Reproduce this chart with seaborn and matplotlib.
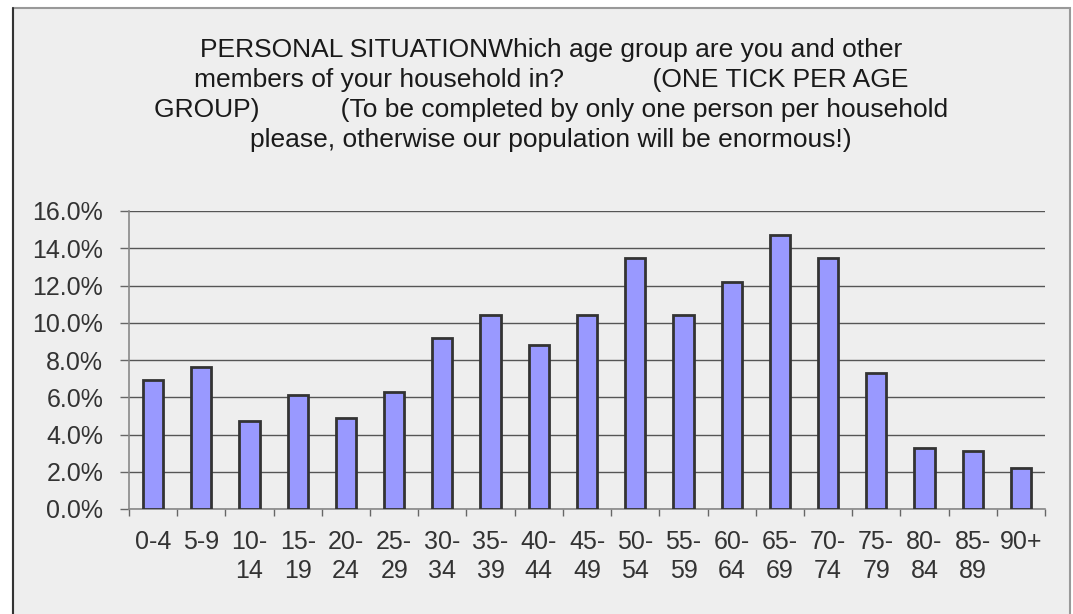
import matplotlib
matplotlib.use("Agg")
import matplotlib.pyplot as plt
import matplotlib.patches as mpatches
from matplotlib.ticker import PercentFormatter, FixedLocator
import seaborn as sns

age_groups = ["0-4", "5-9", "10-\n14", "15-\n19", "20-\n24", "25-\n29", "30-\n34",
              "35-\n39", "40-\n44", "45-\n49", "50-\n54", "55-\n59", "60-\n64",
              "65-\n69", "70-\n74", "75-\n79", "80-\n84", "85-\n89", "90+"]
percent = [6.9, 7.6, 4.7, 6.1, 4.9, 6.3, 9.2, 10.4, 8.8, 10.4, 13.5, 10.4, 12.2,
           14.7, 13.5, 7.3, 3.3, 3.1, 2.2]
title_lines = [
    "PERSONAL SITUATIONWhich age group are you and other",
    "members of your household in?            (ONE TICK PER AGE",
    "GROUP)           (To be completed by only one person per household",
    "please, otherwise our population will be enormous!)",
]

sns.set_theme(style="white")
plt.rcParams["font.family"] = ["Liberation Sans", "DejaVu Sans"]

W, H = 1073, 614
fig = plt.figure(figsize=(W / 100, H / 100), dpi=100, facecolor="white")

# chart panel background with border
panel = mpatches.Rectangle((13 / W, -0.05), (1070 - 13) / W, 1.05 - 8 / H,
                           transform=fig.transFigure, facecolor="#EEEEEE",
                           edgecolor="#999999", linewidth=1.5, zorder=-10)
fig.patches.append(panel)
fig.add_artist(plt.Line2D([13 / W, 13 / W], [0, 1 - 8 / H], transform=fig.transFigure,
                          color="#333333", linewidth=1.5, zorder=-9))

ax = fig.add_axes([129 / W, 1 - 509 / H, (1045 - 129) / W, (509 - 211) / H])
ax.set_zorder(1)
ax.set_facecolor("#EEEEEE")

sns.barplot(x=age_groups, y=percent, color="#9999FF", saturation=1,
            edgecolor="#333333", linewidth=2, width=0.42, ax=ax, zorder=3)

ax.set_ylim(0, 16)
ax.set_xlim(-0.5, len(age_groups) - 0.5)
ax.set_yticks(range(0, 17, 2))
ax.yaxis.set_major_formatter(PercentFormatter(decimals=1))
ax.yaxis.grid(True, color="#555555", linewidth=1)
ax.set_axisbelow(True)
ax.set_xlabel("")
ax.set_ylabel("")

for s in ["top", "right"]:
    ax.spines[s].set_visible(False)
for s in ["left", "bottom"]:
    ax.spines[s].set_color("#888888")
    ax.spines[s].set_linewidth(1.2)

ax.tick_params(axis="y", which="major", length=6.5, color="#666666", width=1,
               labelsize=18, labelcolor="#333333", left=True, pad=12)
ax.tick_params(axis="x", which="major", length=0, labelsize=18,
               labelcolor="#333333", pad=15)
ax.xaxis.set_minor_locator(FixedLocator([i - 0.5 for i in range(len(age_groups) + 1)]))
ax.tick_params(axis="x", which="minor", length=5, color="#666666", width=1, bottom=True)
for lbl in ax.get_xticklabels():
    lbl.set_verticalalignment("top")
    lbl.set_multialignment("center")
    lbl.set_linespacing(1.27)

fig.text(551 / W, 1 - 38 / H, "\n".join(title_lines), ha="center", va="top",
         fontsize=19, color="#1a1a1a", linespacing=1.31)

fig.savefig("out.png", dpi=100, facecolor="white")
